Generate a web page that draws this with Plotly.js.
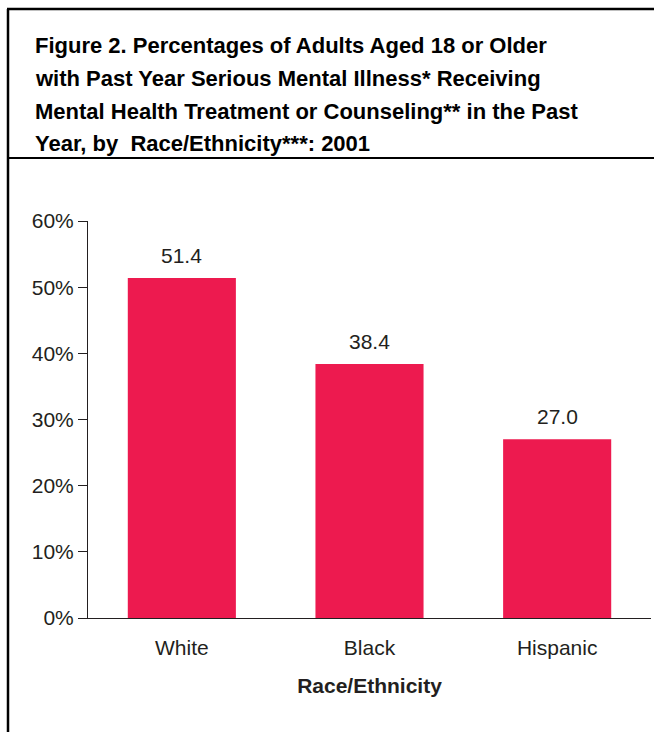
<!DOCTYPE html>
<html>
<head>
<meta charset="utf-8">
<script src="https://cdn.plot.ly/plotly-3.0.1.min.js"></script>
<style>html,body{margin:0;padding:0;background:#fff;}#chart{width:654px;height:732px;}</style>
</head>
<body>
<div id="chart"></div>
<script>
const categories = ["White", "Black", "Hispanic"];
const values = [51.4, 38.4, 27.0];
const valueLabels = ["51.4", "38.4", "27.0"];
const yTickValues = [0, 10, 20, 30, 40, 50, 60];
const yTickLabels = ["0%", "10%", "20%", "30%", "40%", "50%", "60%"];
const titleLines = [
  "Figure 2. Percentages of Adults Aged 18 or Older",
  "with Past Year Serious Mental Illness* Receiving",
  "Mental Health Treatment or Counseling** in the Past",
  "Year, by  Race/Ethnicity***: 2001"
];
const xTitle = "Race/Ethnicity";

const FONT = "Liberation Sans, Arial, Helvetica, sans-serif";
const TXT = "#231f20";
const PX0 = 88, PW = 563, PY0 = 618, PH = 397;
const px = v => (v - PX0) / PW;
const py = v => (PY0 - v) / PH;

const trace = {
  type: "bar",
  x: categories,
  y: values,
  marker: {color: "#ED1A4F", line: {width: 0}},
  hoverinfo: "none"
};

const valueAnnotations = categories.map((c, i) => ({
  x: c, y: values[i], xref: "x", yref: "y",
  text: valueLabels[i], showarrow: false,
  yanchor: "bottom", yshift: 9,
  font: {family: FONT, size: 21, color: TXT}
}));

const titleLineY = [45, 78, 111, 143];
const titleAnnotations = titleLines.map((t, i) => ({
  xref: "paper", yref: "paper",
  x: px(33), y: py(titleLineY[i]),
  xanchor: "left", yanchor: "middle", align: "left",
  showarrow: false, text: "<b>" + t + "</b>",
  font: {family: FONT, size: 22, color: "#000"}
}));

const layout = {
  width: 654, height: 732,
  margin: {l: PX0, r: 654 - PX0 - PW, t: PY0 - PH, b: 732 - PY0, pad: 0},
  paper_bgcolor: "#fff", plot_bgcolor: "#fff",
  showlegend: false,
  bargap: 0.424,
  font: {family: FONT, color: TXT},
  xaxis: {
    type: "category",
    showline: true, linecolor: "#231f20", linewidth: 1,
    ticks: "", showgrid: false, zeroline: false,
    tickfont: {family: FONT, size: 21, color: TXT},
    ticklabelstandoff: 11,
    title: {text: xTitle, font: {family: FONT, size: 21, color: TXT, weight: "bold"}, standoff: 20},
    fixedrange: true
  },
  yaxis: {
    range: [0, 60],
    tickvals: yTickValues, ticktext: yTickLabels,
    showline: true, linecolor: "#231f20", linewidth: 1,
    ticks: "outside", ticklen: 9, tickcolor: "#231f20", tickwidth: 1,
    showgrid: false, zeroline: false,
    tickfont: {family: FONT, size: 21, color: TXT},
    fixedrange: true
  },
  annotations: titleAnnotations.concat(valueAnnotations),
  shapes: [
    {type: "line", xref: "paper", yref: "paper", x0: px(8), x1: px(8), y0: py(9), y1: -0.4, line: {color: "#000", width: 2.5}},
    {type: "line", xref: "paper", yref: "paper", x0: px(7), x1: 1.2, y0: py(9), y1: py(9), line: {color: "#000", width: 2.5}},
    {type: "line", xref: "paper", yref: "paper", x0: px(7), x1: 1.2, y0: py(158), y1: py(158), line: {color: "#000", width: 2}}
  ]
};

Plotly.newPlot("chart", [trace], layout, {displayModeBar: false, staticPlot: true});
</script>
</body>
</html>
